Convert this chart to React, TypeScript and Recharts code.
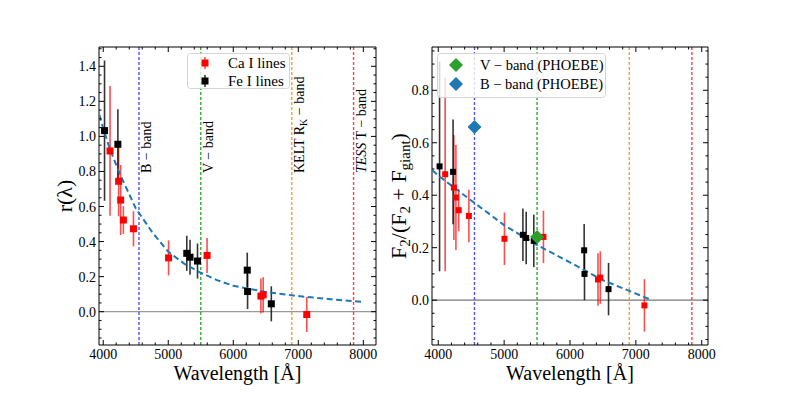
import React from "react";
import { ScatterChart, Scatter, XAxis, YAxis, ErrorBar, ReferenceLine } from "recharts";

const FONT = "'Liberation Serif', 'DejaVu Serif', serif";

// Ca I lines
const caWavelength = [4105, 4237, 4268, 4310, 4465, 5005, 5597, 6425, 6460, 7130];
const caRatio = [0.917, 0.744, 0.637, 0.523, 0.473, 0.307, 0.321, 0.089, 0.096, -0.016];
const caRatioErr = [0.37, 0.2, 0.2, 0.08, 0.1, 0.1, 0.1, 0.1, 0.1, 0.1];
const caFrac = [0.48, 0.429, 0.391, 0.343, 0.321, 0.234, 0.241, 0.079, 0.086, -0.02];
const caFracErr = [0.37, 0.2, 0.2, 0.08, 0.1, 0.1, 0.1, 0.1, 0.1, 0.1];

// Fe I lines
const feWavelength = [4020, 4225, 5285, 5335, 5450, 6215, 6220, 6585];
const feRatio = [1.033, 0.955, 0.333, 0.311, 0.289, 0.237, 0.115, 0.045];
const feRatioErr = [0.4, 0.2, 0.1, 0.1, 0.1, 0.1, 0.1, 0.1];
const feFrac = [0.51, 0.489, 0.249, 0.237, 0.226, 0.19, 0.1, 0.042];
const feFracErr = [0.4, 0.2, 0.1, 0.1, 0.1, 0.1, 0.1, 0.1];

// dashed fits
const fitRatioWavelength = [3940, 4000, 4100, 4250, 4500, 4750, 5000, 5250, 5500, 5750, 6000, 6500, 7000, 7500, 8000];
const fitRatio = [1.123, 1.047, 0.93, 0.79, 0.59, 0.455, 0.342, 0.273, 0.222, 0.18, 0.148, 0.113, 0.089, 0.071, 0.056];
const fitFracWavelength = [3910, 4000, 4500, 5000, 5500, 6000, 6500, 7000, 7200];
const fitFrac = [0.495, 0.475, 0.38, 0.286, 0.21, 0.144, 0.076, 0.025, 0.004];

// PHOEBE points: V band, B band
const phoebeWavelength = [5500, 4550];
const phoebeFrac = [0.241, 0.66];

// photometric bands
const bandWavelength = [4550, 5500, 6900, 7850];
const bandColors = ["#5050ff", "#33aa33", "#ff9a30", "#ff4040"];

const xMajor = [4000, 5000, 6000, 7000, 8000];
const leftYMajor = [0, 0.2, 0.4, 0.6, 0.8, 1.0, 1.2, 1.4];
const rightYMajor = [0, 0.2, 0.4, 0.6, 0.8];

const steps = (from: number, to: number, step: number) => {
  const out: number[] = [];
  for (let v = from; v <= to + 1e-9; v += step) out.push(Math.round(v * 1000) / 1000);
  return out;
};
const xMinor = steps(4000, 8000, 200);
const leftYMinor = steps(-0.15, 1.5, 0.05);
const rightYMinor = steps(-0.15, 0.95, 0.05);

const zip = (xs: number[], ys: number[], es?: number[]) =>
  xs.map((x, i) => ({ x, y: ys[i], e: es ? es[i] : 0 }));

const M = 4;
const AXIS = { stroke: "#000", strokeWidth: 1 };

const tickFn = (side: string, majors: number[], fmt?: (v: number) => string) => (props: any) => {
  const { x, y, payload } = props;
  const v = payload.value;
  const major = majors.some((m) => Math.abs(m - v) < 1e-6);
  const len = major ? 5 : 2.5;
  if (side === "bottom") {
    const ay = y - M;
    return (
      <g>
        <line x1={x} x2={x} y1={ay} y2={ay - len} stroke="#000" strokeWidth={1} />
        {major && fmt && (
          <text x={x} y={ay + 14} textAnchor="middle" fontSize={14} fontFamily={FONT} fill="#000">
            {fmt(v)}
          </text>
        )}
      </g>
    );
  }
  if (side === "top") {
    return <line x1={x} x2={x} y1={y} y2={y + len} stroke="#000" strokeWidth={1} />;
  }
  if (side === "left") {
    const ax = x + M;
    return (
      <g>
        <line x1={ax} x2={ax + len} y1={y} y2={y} stroke="#000" strokeWidth={1} />
        {major && fmt && (
          <text x={ax - 3} y={y + 5} textAnchor="end" fontSize={14} fontFamily={FONT} fill="#000">
            {fmt(v)}
          </text>
        )}
      </g>
    );
  }
  return <line x1={x} x2={x - len} y1={y} y2={y} stroke="#000" strokeWidth={1} />;
};

const fmtInt = (v: number) => String(v);
const fmtOne = (v: number) => v.toFixed(1);

const square = (size: number, fill: string) => (p: any) => (
  <rect x={p.cx - size / 2} y={p.cy - size / 2} width={size} height={size} fill={fill} />
);
const diamond = (r: number, fill: string) => (p: any) => (
  <polygon points={`${p.cx},${p.cy - r} ${p.cx + r},${p.cy} ${p.cx},${p.cy + r} ${p.cx - r},${p.cy}`} fill={fill} />
);
const nothing = () => <g />;

const bandText = (content: React.ReactNode) => (props: any) => {
  const vb = props.viewBox || {};
  const x = vb.x + 12;
  const y = vb.y + 126;
  return (
    <text transform={`rotate(-90 ${x} ${y})`} x={x} y={y} fontSize={14} fontFamily={FONT} fill="#000">
      {content}
    </text>
  );
};

const bandLabels = [
  bandText("B − band"),
  bandText("V − band"),
  bandText(
    <>
      KELT R<tspan dy={3} fontSize={10}>K</tspan>
      <tspan dy={-3}> − band</tspan>
    </>
  ),
  bandText(
    <>
      <tspan fontStyle="italic">TESS</tspan> T − band
    </>
  ),
];

const xTitle = (props: any) => {
  const vb = props.viewBox;
  return (
    <text x={vb.x + vb.width / 2} y={vb.y + 35} textAnchor="middle" fontSize={20} fontFamily={FONT} fill="#000">
      Wavelength [Å]
    </text>
  );
};

const rTitle = (props: any) => {
  const vb = props.viewBox;
  const x = vb.x + 72;
  const y = vb.y + vb.height / 2;
  return (
    <text transform={`rotate(-90 ${x} ${y})`} x={x} y={y} textAnchor="middle" fontSize={22} fontFamily={FONT} fill="#000">
      r(λ)
    </text>
  );
};

const fracTitle = (props: any) => {
  const vb = props.viewBox;
  const x = vb.x + 26;
  const y = vb.y + vb.height / 2;
  return (
    <text transform={`rotate(-90 ${x} ${y})`} x={x} y={y} textAnchor="middle" fontSize={22} fontFamily={FONT} fill="#000">
      F<tspan dy={4} fontSize={15}>2</tspan>
      <tspan dy={-4}>/(F</tspan>
      <tspan dy={4} fontSize={15}>2</tspan>
      <tspan dy={-4}> + F</tspan>
      <tspan dy={4} fontSize={15}>giant</tspan>
      <tspan dy={-4}>)</tspan>
    </text>
  );
};

const RED_BAR = "rgba(255,0,0,0.7)";
const BLACK_BAR = "rgba(0,0,0,0.8)";
const FIT = { stroke: "#1f77b4", strokeWidth: 2, strokeDasharray: "6 3.5" };

export default function App() {
  return (
    <div style={{ position: "absolute", left: 0, top: 0, width: 789, height: 395, background: "#fff" }}>
      <div style={{ position: "absolute", left: 0, top: 0 }}>
        <ScatterChart width={380} height={395} margin={{ top: 46, right: 3, bottom: 0, left: 0 }}>
          <XAxis type="number" dataKey="x" domain={[3935, 8195]} allowDataOverflow ticks={xMinor} interval={0}
            tickSize={0} tickMargin={M} height={50} axisLine={AXIS} tickLine={false}
            tick={tickFn("bottom", xMajor, fmtInt)} label={xTitle} />
          <XAxis xAxisId="top" orientation="top" type="number" dataKey="x" domain={[3935, 8195]} allowDataOverflow
            ticks={xMinor} interval={0} tickSize={0} tickMargin={0} height={1} axisLine={AXIS} tickLine={false}
            tick={tickFn("top", xMajor)} />
          <YAxis type="number" dataKey="y" domain={[-0.19, 1.51]} allowDataOverflow ticks={leftYMinor} interval={0}
            tickSize={0} tickMargin={M} width={99} axisLine={AXIS} tickLine={false}
            tick={tickFn("left", leftYMajor, fmtOne)} label={rTitle} />
          <YAxis yAxisId="right" orientation="right" type="number" dataKey="y" domain={[-0.19, 1.51]} allowDataOverflow
            ticks={leftYMinor} interval={0} tickSize={0} tickMargin={0} width={1} axisLine={AXIS} tickLine={false}
            tick={tickFn("right", leftYMajor)} />
          <ReferenceLine y={0} stroke="#999" strokeWidth={1.2} />
          {bandWavelength.map((w, i) => (
            <ReferenceLine key={w} x={w} stroke={bandColors[i]} strokeWidth={1.4} strokeDasharray="3 2" label={bandLabels[i]} />
          ))}
          <Scatter xAxisId="top" yAxisId="right" data={zip(fitRatioWavelength, fitRatio)} shape={nothing} isAnimationActive={false} />
          <Scatter data={zip(fitRatioWavelength, fitRatio)} line={FIT} lineType="joint" shape={nothing} isAnimationActive={false} />
          <Scatter data={zip(caWavelength, caRatio, caRatioErr)} shape={square(7, "#ff0000")} isAnimationActive={false}>
            <ErrorBar dataKey="e" direction="y" width={0} stroke={RED_BAR} strokeWidth={1.6} isAnimationActive={false} />
          </Scatter>
          <Scatter data={zip(feWavelength, feRatio, feRatioErr)} shape={square(7, "#000")} isAnimationActive={false}>
            <ErrorBar dataKey="e" direction="y" width={0} stroke={BLACK_BAR} strokeWidth={1.6} isAnimationActive={false} />
          </Scatter>
        </ScatterChart>
      </div>

      <div style={{ position: "absolute", left: 380, top: 0 }}>
        <ScatterChart width={409} height={395} margin={{ top: 46, right: 80, bottom: 0, left: 0 }}>
          <XAxis type="number" dataKey="x" domain={[3905, 8095]} allowDataOverflow ticks={xMinor} interval={0}
            tickSize={0} tickMargin={M} height={50} axisLine={AXIS} tickLine={false}
            tick={tickFn("bottom", xMajor, fmtInt)} label={xTitle} />
          <XAxis xAxisId="top" orientation="top" type="number" dataKey="x" domain={[3905, 8095]} allowDataOverflow
            ticks={xMinor} interval={0} tickSize={0} tickMargin={0} height={1} axisLine={AXIS} tickLine={false}
            tick={tickFn("top", xMajor)} />
          <YAxis type="number" dataKey="y" domain={[-0.171, 0.965]} allowDataOverflow ticks={rightYMinor} interval={0}
            tickSize={0} tickMargin={M} width={52} axisLine={AXIS} tickLine={false}
            tick={tickFn("left", rightYMajor, fmtOne)} label={fracTitle} />
          <YAxis yAxisId="right" orientation="right" type="number" dataKey="y" domain={[-0.171, 0.965]} allowDataOverflow
            ticks={rightYMinor} interval={0} tickSize={0} tickMargin={0} width={1} axisLine={AXIS} tickLine={false}
            tick={tickFn("right", rightYMajor)} />
          <ReferenceLine y={0} stroke="#777" strokeWidth={1.2} />
          {bandWavelength.map((w, i) => (
            <ReferenceLine key={w} x={w} stroke={bandColors[i]} strokeWidth={1.4} strokeDasharray="3 2" />
          ))}
          <Scatter xAxisId="top" yAxisId="right" data={zip(fitFracWavelength, fitFrac)} shape={nothing} isAnimationActive={false} />
          <Scatter data={zip(fitFracWavelength, fitFrac)} line={FIT} lineType="joint" shape={nothing} isAnimationActive={false} />
          <Scatter data={zip(caWavelength, caFrac, caFracErr)} shape={square(6, "#ff0000")} isAnimationActive={false}>
            <ErrorBar dataKey="e" direction="y" width={0} stroke={RED_BAR} strokeWidth={1.6} isAnimationActive={false} />
          </Scatter>
          <Scatter data={zip(feWavelength, feFrac, feFracErr)} shape={square(6, "#000")} isAnimationActive={false}>
            <ErrorBar dataKey="e" direction="y" width={0} stroke={BLACK_BAR} strokeWidth={1.6} isAnimationActive={false} />
          </Scatter>
          <Scatter data={zip(phoebeWavelength.slice(0, 1), phoebeFrac.slice(0, 1))} shape={diamond(7, "#2ca02c")} isAnimationActive={false} />
          <Scatter data={zip(phoebeWavelength.slice(1), phoebeFrac.slice(1))} shape={diamond(7, "#1f77b4")} isAnimationActive={false} />
        </ScatterChart>
      </div>

      <svg style={{ position: "absolute", left: 187, top: 53 }} width={104} height={37}>
        <rect x={0.5} y={0.5} width={102} height={35} rx={3} fill="rgba(255,255,255,0.8)" stroke="#d4d4d4" />
        <line x1={18} x2={18} y1={4} y2={16} stroke={RED_BAR} strokeWidth={1.6} />
        <rect x={14.5} y={6.5} width={7} height={7} fill="#ff0000" />
        <text x={41} y={15} fontSize={15} fontFamily={FONT}>Ca I lines</text>
        <line x1={18} x2={18} y1={22} y2={34} stroke={BLACK_BAR} strokeWidth={1.6} />
        <rect x={14.5} y={24.5} width={7} height={7} fill="#000" />
        <text x={41} y={33} fontSize={15} fontFamily={FONT}>Fe I lines</text>
      </svg>

      <svg style={{ position: "absolute", left: 437, top: 53 }} width={170} height={46}>
        <rect x={0.5} y={0.5} width={168} height={44} rx={3} fill="rgba(255,255,255,0.8)" stroke="#d4d4d4" />
        <polygon points="19,5 26,12 19,19 12,12" fill="#2ca02c" />
        <text x={43} y={17} fontSize={14.5} fontFamily={FONT}>V − band (PHOEBE)</text>
        <polygon points="19,24 26,31 19,38 12,31" fill="#1f77b4" />
        <text x={43} y={36} fontSize={14.5} fontFamily={FONT}>B − band (PHOEBE)</text>
      </svg>
    </div>
  );
}
